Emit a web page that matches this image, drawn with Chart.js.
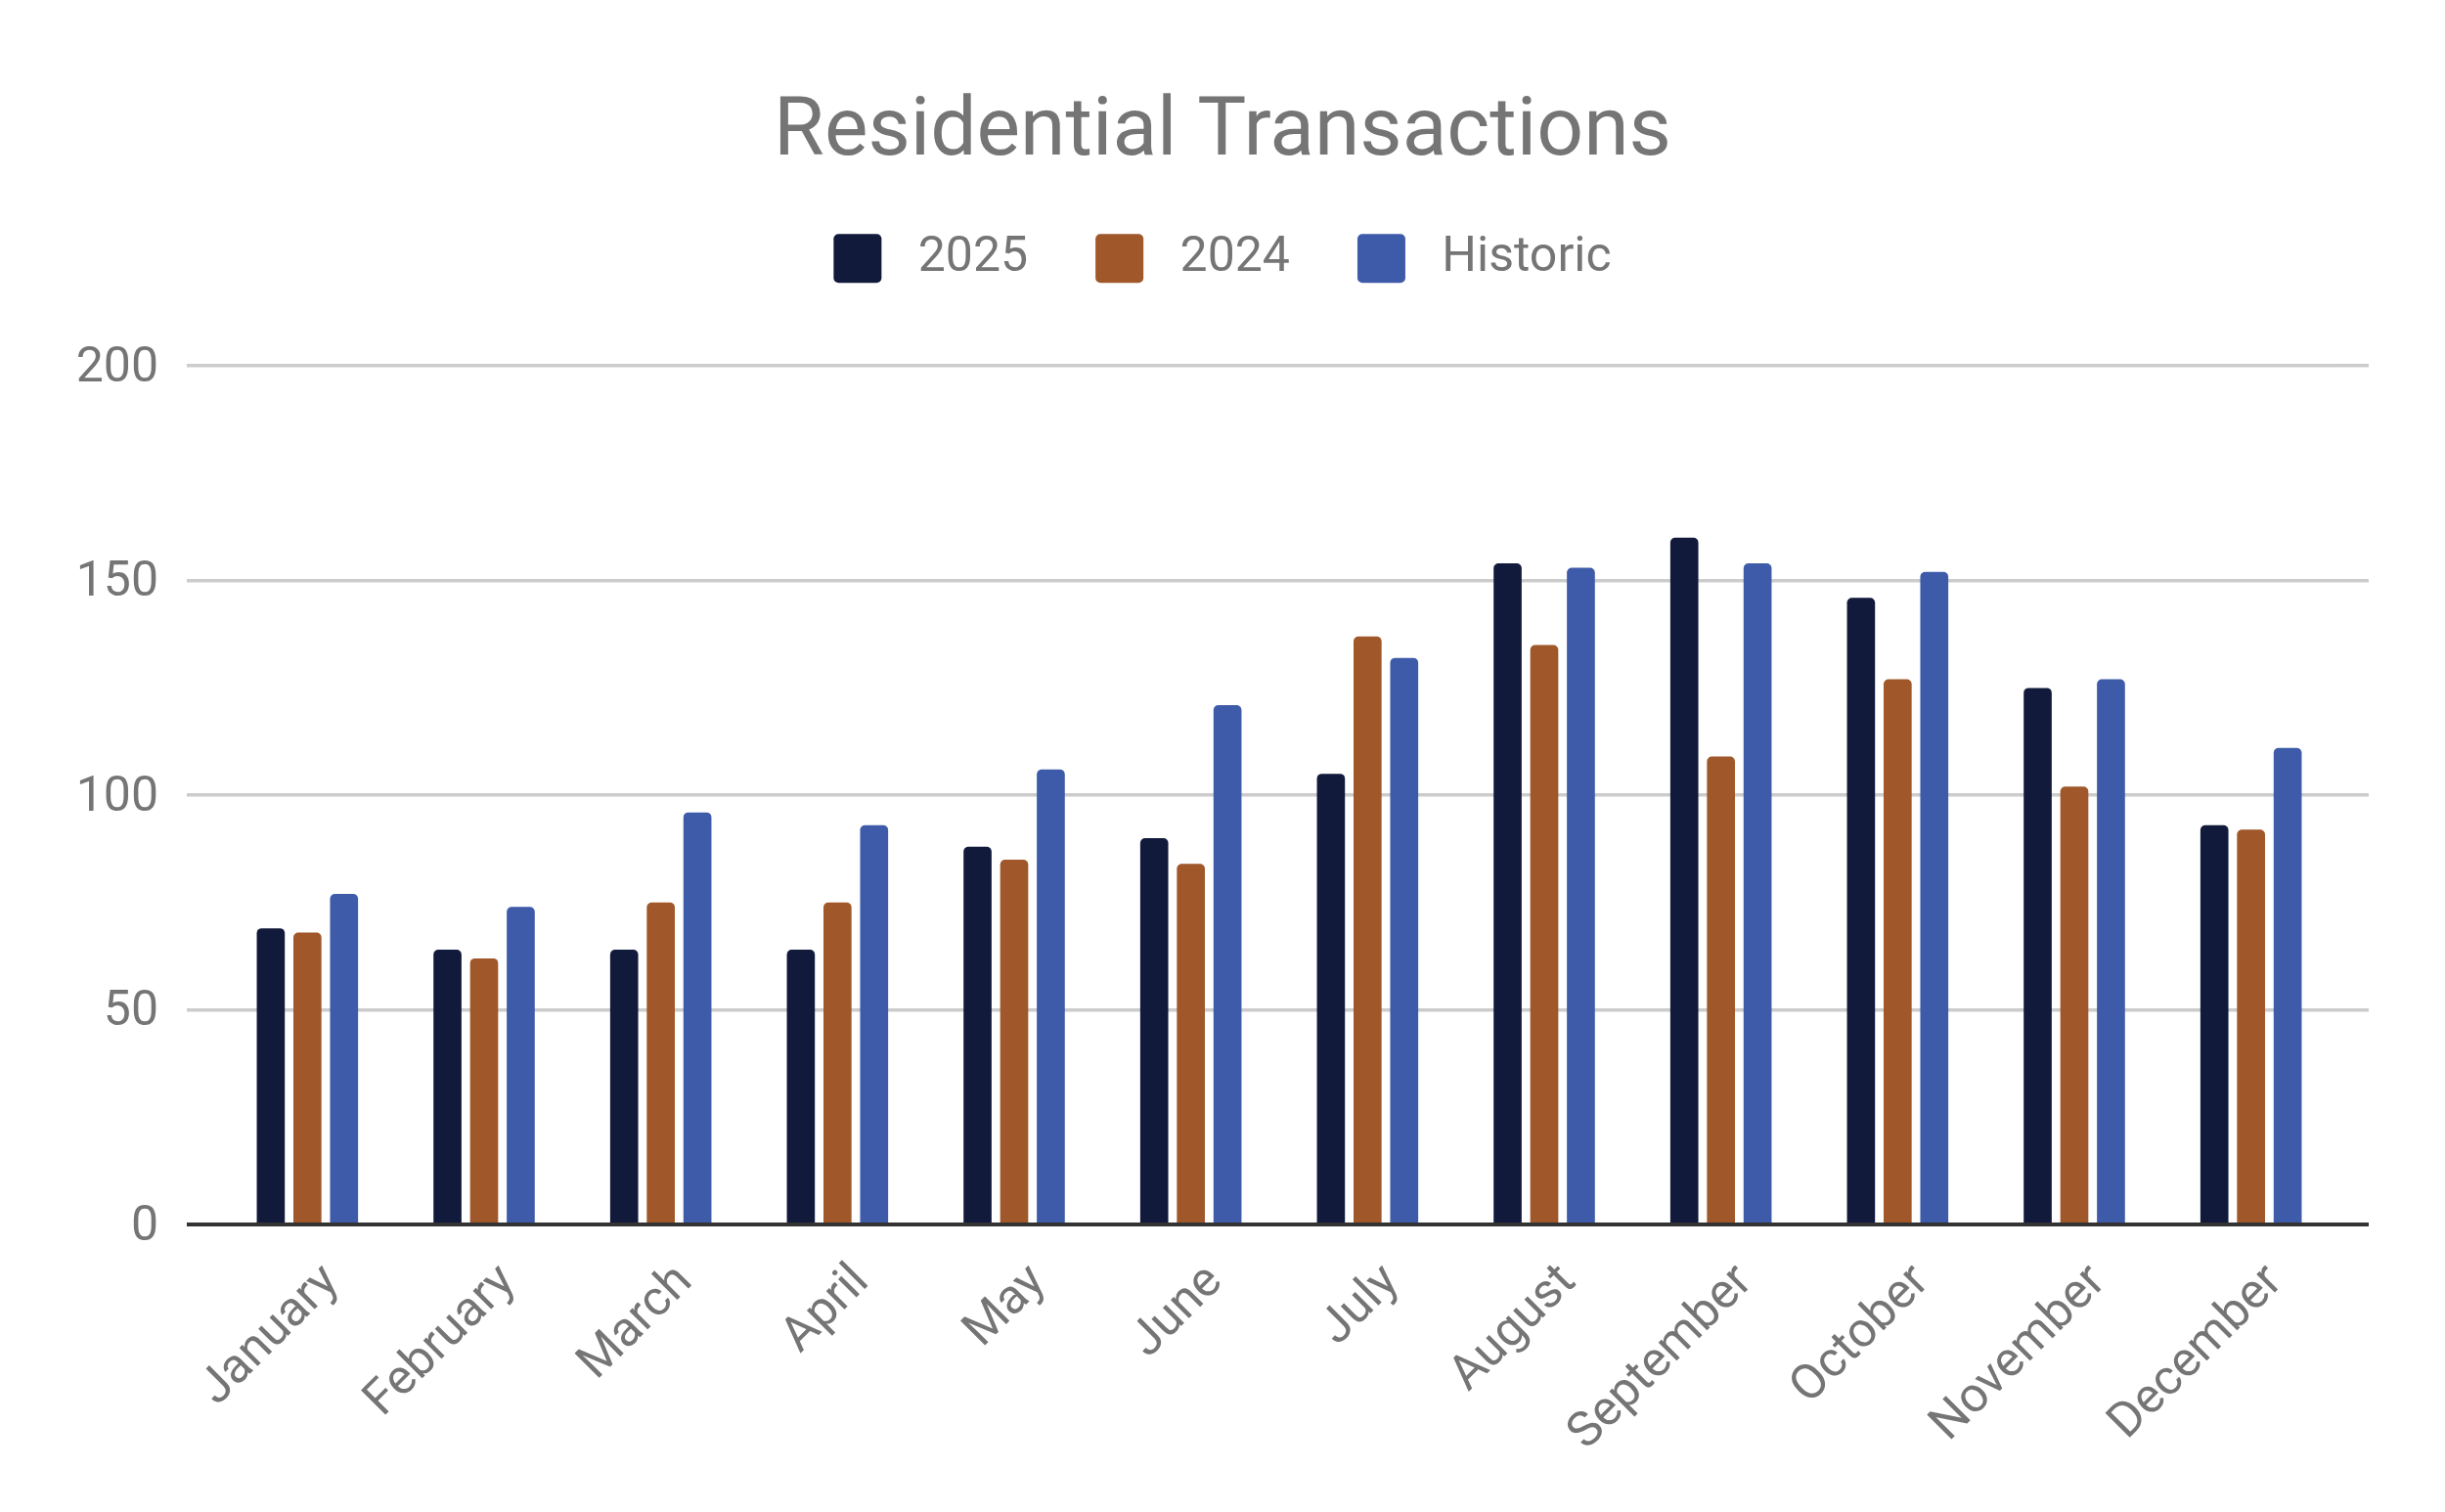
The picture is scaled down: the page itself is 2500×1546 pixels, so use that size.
<!DOCTYPE html>
<html>
<head>
<meta charset="utf-8">
<script src="https://cdn.jsdelivr.net/npm/chart.js@4.4.1/dist/chart.umd.min.js"></script>
<style>
  html, body { margin: 0; padding: 0; background: #fff; }
</style>
</head>
<body>
<canvas id="txChart" width="2500" height="1546"></canvas>
<script>
const months = [
  'January', 'February', 'March', 'April', 'May', 'June',
  'July', 'August', 'September', 'October', 'November', 'December'
];
const sales2025 = [69, 64, 64, 64, 88, 90, 105, 154, 160, 146, 125, 93];
const sales2024 = [68, 62, 75, 75, 85, 84, 137, 135, 109, 127, 102, 92];
const historic = [77, 74, 96, 93, 106, 121, 132, 153, 154, 152, 127, 111];
const yMin = 0;
const yMax = 200;
const yStep = 50;

const gray = '#757575';
const family = 'Roboto';

// zero line is dark, the rest light grey
const isZero = c => c.tick && c.tick.value === 0;
const gridColor = c => (isZero(c) ? '#333333' : '#cccccc');
const gridWidth = c => (isZero(c) ? 4 : 3.5);

// leave room between the legend and the plot
const legendGap = {
  id: 'legendGap',
  afterInit(chart) {
    const lg = chart.legend;
    const fit = lg.fit;
    lg.fit = function () {
      fit.call(this);
      this.height = 204;
    };
  }
};

const bar = {
  borderRadius: { topLeft: 5, topRight: 5, bottomLeft: 0, bottomRight: 0 },
  categoryPercentage: 0.622,
  barPercentage: 0.765
};

new Chart(document.getElementById('txChart').getContext('2d'), {
  type: 'bar',
  data: {
    labels: months,
    datasets: [
      { label: '2025', data: sales2025, backgroundColor: '#121a3b', ...bar },
      { label: '2024', data: sales2024, backgroundColor: '#a0572a', ...bar },
      { label: 'Historic', data: historic, backgroundColor: '#3e5ba9', ...bar }
    ]
  },
  options: {
    responsive: false,
    animation: false,
    devicePixelRatio: 1,
    layout: { padding: 0 },
    plugins: {
      tooltip: { enabled: false },
      title: {
        display: true,
        text: 'Residential Transactions',
        color: gray,
        font: { family: family, size: 84, weight: 'normal', lineHeight: 0.8 },
        padding: { top: 103, bottom: 0 }
      },
      legend: {
        labels: {
          color: gray,
          font: { family: family, size: 50 },
          boxWidth: 49,
          boxHeight: 50,
          padding: 69,
          useBorderRadius: true,
          borderRadius: 5,
          generateLabels(chart) {
            // a bit more space between swatch and text
            return Chart.defaults.plugins.legend.labels.generateLabels(chart)
              .map(item => ({ ...item, text: ' ' + item.text }));
          }
        }
      }
    },
    scales: {
      x: {
        grid: { display: false, drawTicks: false },
        border: { display: false },
        ticks: {
          color: gray,
          font: { family: family, size: 50 },
          minRotation: 45,
          maxRotation: 45,
          autoSkip: false,
          padding: 30,
          labelOffset: 25
        },
        afterFit(s) { s.height = 294; }
      },
      y: {
        min: yMin,
        max: yMax,
        ticks: {
          stepSize: yStep,
          color: gray,
          font: { family: family, size: 50 },
          padding: 29,
          labelOffset: 3
        },
        grid: { color: gridColor, tickColor: gridColor, lineWidth: gridWidth, tickWidth: gridWidth, tickLength: 33 },
        border: { display: false },
        afterFit(s) { s.width = 224; }
      },
      y2: {
        position: 'right',
        display: true,
        min: yMin,
        max: yMax,
        ticks: { stepSize: yStep, display: false },
        grid: {
          color: gridColor, tickColor: gridColor, lineWidth: gridWidth, tickWidth: gridWidth,
          tickLength: 30, drawOnChartArea: false
        },
        border: { display: false },
        afterFit(s) { s.width = 108; }
      }
    }
  },
  plugins: [legendGap]
});
</script>
</body>
</html>
